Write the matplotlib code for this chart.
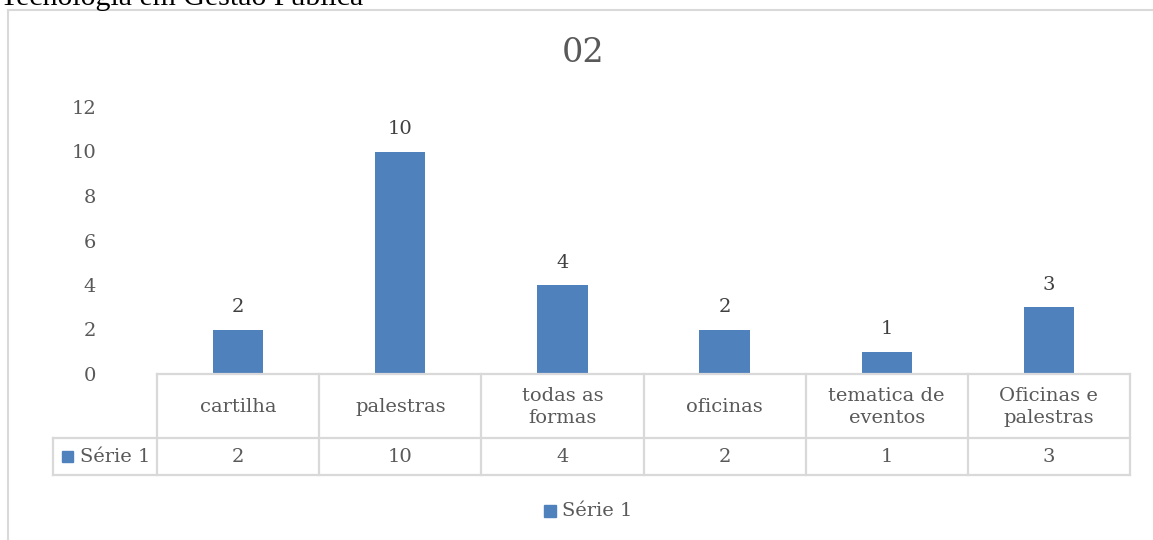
import matplotlib.pyplot as plt
from matplotlib.patches import Rectangle
from matplotlib.lines import Line2D

# data
categorias = ["cartilha", "palestras", "todas as\nformas", "oficinas",
              "tematica de\neventos", "Oficinas e\npalestras"]
serie1 = [2, 10, 4, 2, 1, 3]
nome_serie = "Série 1"
yticks = [0, 2, 4, 6, 8, 10, 12]

W, H = 1153, 540
azul = "#4F81BD"
cinza_txt = "#595959"
cinza_lin = "#D9D9D9"
plt.rcParams["font.family"] = ["DejaVu Serif"]

fig = plt.figure(figsize=(W / 100, H / 100), dpi=100)

def px_axes(x0, y0, x1, y1):
    # axes placed by pixel box (top-left origin)
    return fig.add_axes([x0 / W, 1 - y1 / H, (x1 - x0) / W, (y1 - y0) / H])

# chart border (only top and left edges fall inside the page)
fig.add_artist(Line2D([8 / W, 8 / W], [0, 1 - 10 / H], color=cinza_lin, lw=1.5))
fig.add_artist(Line2D([8 / W, 1], [1 - 10 / H, 1 - 10 / H], color=cinza_lin, lw=1.5))

# caption line from the page above, cut by the top edge
fig.text(0 / W, 1 - 5 / H, "Tecnologia em Gestão Pública", family="Liberation Serif",
         fontsize=21.5, color="black", va="baseline", ha="left")

# bars
ax = px_axes(157, 107, 1130, 374)
x = list(range(len(serie1)))
ax.bar(x, serie1, width=0.31, color=azul, zorder=2)
ax.set_xlim(-0.5, len(serie1) - 0.5)
ax.set_ylim(0, 12)
ax.set_yticks(yticks)
ax.set_yticklabels([str(t) for t in yticks], fontsize=14, color=cinza_txt)
ax.tick_params(axis="y", length=0, pad=44)
ax.set_xticks([])
for s in ax.spines.values():
    s.set_visible(False)
for xi, v in zip(x, serie1):
    ax.text(xi, v + 0.6, str(v), ha="center", va="bottom", fontsize=14, color="#404040")

fig.text(583 / W, 1 - 53 / H, "02", ha="center", va="center", fontsize=24, color=cinza_txt)

# data table under the axis
tb = px_axes(157, 374, 1130, 475)
tb.set_xlim(-0.5, len(serie1) - 0.5)
tb.set_ylim(101, 0)
tb.axis("off")
unit = 973 / 6
lbl_left = -0.5 - 104 / unit
kw = dict(color=cinza_lin, lw=1.6, clip_on=False, solid_capstyle="projecting")
tb.plot([-0.5, 5.5], [0, 0], **kw)
tb.plot([lbl_left, 5.5], [64, 64], **kw)
tb.plot([lbl_left, 5.5], [101, 101], **kw)
tb.plot([lbl_left, lbl_left], [64, 101], **kw)
for i in range(len(serie1) + 1):
    tb.plot([i - 0.5, i - 0.5], [0, 101], **kw)
for xi, (c, v) in enumerate(zip(categorias, serie1)):
    tb.text(xi, 33, c, ha="center", va="center", fontsize=14, color=cinza_txt,
            linespacing=1.25)
    tb.text(xi, 83, str(v), ha="center", va="center", fontsize=14, color=cinza_txt)
tb.add_patch(Rectangle((lbl_left + 9 / unit, 77), 11 / unit, 11, color=azul, clip_on=False))
tb.text(lbl_left + 27 / unit, 83, nome_serie, ha="left", va="center",
        fontsize=14, color=cinza_txt)

# legend
fig.add_artist(Rectangle((544 / W, 1 - 517 / H), 12 / W, 12 / H, color=azul))
fig.text(562 / W, 1 - 511 / H, nome_serie, ha="left", va="center", fontsize=14,
         color=cinza_txt)

fig.savefig("out.png", dpi=100)
